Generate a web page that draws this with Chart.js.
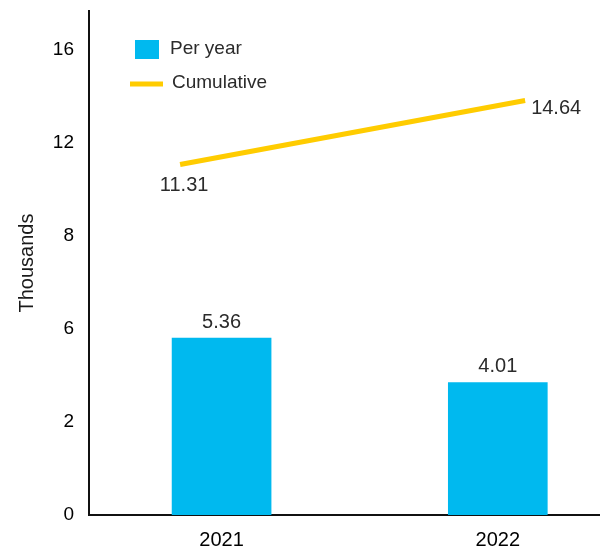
<!DOCTYPE html>
<html>
<head>
<meta charset="utf-8">
<script src="https://cdn.jsdelivr.net/npm/chart.js@4/dist/chart.umd.min.js"></script>
<style>
  html, body { margin: 0; padding: 0; background: #fff; }
  #wrap { width: 600px; height: 552px; position: relative; }
</style>
</head>
<body>
<div id="wrap"><canvas id="c"></canvas></div>
<script>
// Yearly and cumulative totals (thousands)
const years = [2021, 2022];
const perYear = [5.36, 4.01];
const cumulative = [11.31, 14.64];
const yTickLabels = ['0', '2', '6', '8', '12', '16'];
const seriesNames = ['Per year', 'Cumulative'];

const FONT = "'Liberation Sans', Arial, sans-serif";
const BLUE = '#00b9ef';
const GOLD = '#ffcc00';
const TICK_STEP = 2.82;

// Value labels for bars and line points
const valueLabels = {
  id: 'valueLabels',
  afterDatasetsDraw(chart) {
    const ctx = chart.ctx;
    ctx.save();
    ctx.font = '20px ' + FONT;
    ctx.fillStyle = '#2b2b2b';
    chart.data.datasets.forEach((ds, di) => {
      const meta = chart.getDatasetMeta(di);
      meta.data.forEach((el, i) => {
        const txt = ds.data[i].y.toFixed(2);
        if (ds.type === 'bar') {
          ctx.textAlign = 'center';
          ctx.textBaseline = 'bottom';
          ctx.fillText(txt, el.x, el.y - 6);
        } else if (i === 0) {
          ctx.textAlign = 'center';
          ctx.textBaseline = 'middle';
          ctx.fillText(txt, el.x + 4, el.y + 21);
        } else {
          ctx.textAlign = 'left';
          ctx.textBaseline = 'middle';
          ctx.fillText(txt, el.x + 6, el.y + 8);
        }
      });
    });
    ctx.restore();
  }
};

// Stacked legend in the upper-left of the plot
const stackedLegend = {
  id: 'stackedLegend',
  afterDraw(chart) {
    const ctx = chart.ctx;
    ctx.save();
    ctx.font = '19px ' + FONT;
    ctx.textBaseline = 'middle';
    ctx.textAlign = 'left';
    const b = chart.data.datasets[0];
    ctx.fillStyle = b.backgroundColor;
    ctx.fillRect(135, 40, 24, 19);
    ctx.fillStyle = '#2b2b2b';
    ctx.fillText(b.label, 170, 49);
    const l = chart.data.datasets[1];
    ctx.strokeStyle = l.borderColor;
    ctx.lineWidth = 5;
    ctx.beginPath();
    ctx.moveTo(130, 84);
    ctx.lineTo(163, 84);
    ctx.stroke();
    ctx.fillText(l.label, 172, 83);
    ctx.restore();
  }
};

new Chart(document.getElementById('c'), {
  data: {
    datasets: [
      {
        type: 'bar',
        label: seriesNames[0],
        data: years.map((y, i) => ({ x: y, y: perYear[i] })),
        backgroundColor: BLUE,
        barThickness: 99,
        grouped: false,
        xAxisID: 'x',
        yAxisID: 'y',
        order: 2
      },
      {
        type: 'line',
        label: seriesNames[1],
        data: years.map((y, i) => ({ x: y, y: cumulative[i] })),
        borderColor: GOLD,
        backgroundColor: GOLD,
        borderWidth: 5,
        borderCapStyle: 'butt',
        pointRadius: 0,
        xAxisID: 'x2',
        yAxisID: 'y2',
        order: 1
      }
    ]
  },
  options: {
    responsive: true,
    maintainAspectRatio: false,
    animation: false,
    layout: { padding: { top: 11, right: 0, left: 0, bottom: 0 } },
    plugins: {
      legend: { display: false },
      tooltip: { enabled: false }
    },
    scales: {
      x: {
        type: 'linear',
        offset: false,
        min: 2020.52,
        max: 2022.37,
        afterBuildTicks(scale) { scale.ticks = years.map(v => ({ value: v })); },
        afterFit(scale) { scale.height = 37; scale.paddingLeft = 0; scale.paddingRight = 0; },
        grid: { display: false, drawTicks: false, offset: false },
        border: { display: true, color: '#111', width: 2 },
        ticks: {
          padding: 13,
          color: '#000',
          font: { family: FONT, size: 20 },
          callback: v => String(v)
        }
      },
      x2: {
        type: 'linear',
        display: false,
        offset: false,
        min: 2020.736,
        max: 2022.217
      },
      y: {
        type: 'linear',
        min: 0,
        max: 15.27,
        afterBuildTicks(scale) { scale.ticks = yTickLabels.map((_, i) => ({ value: i * TICK_STEP })); },
        afterFit(scale) { scale.width = 89; scale.paddingTop = 0; scale.paddingBottom = 0; },
        grid: { display: false, drawTicks: false },
        border: { display: true, color: '#111', width: 2 },
        ticks: {
          padding: 15,
          color: '#000',
          font: { family: FONT, size: 19 },
          callback: (v, i) => yTickLabels[i]
        },
        title: {
          display: true,
          text: 'Thousands',
          color: '#1a1a1a',
          font: { family: FONT, size: 20 },
          padding: { top: 15, bottom: 0 }
        }
      },
      y2: {
        type: 'linear',
        display: false,
        min: -6.93,
        max: 19.30
      }
    }
  },
  plugins: [valueLabels, stackedLegend]
});
</script>
</body>
</html>
